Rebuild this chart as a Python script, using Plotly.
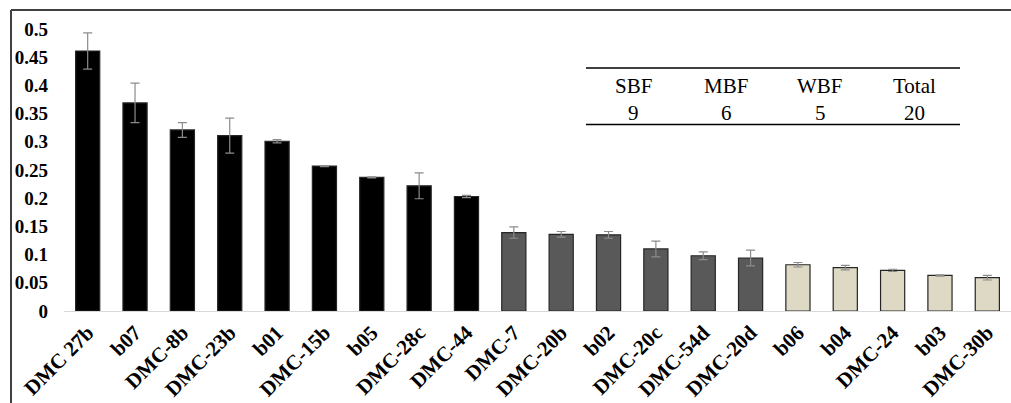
import plotly.graph_objects as go

categories = ["DMC 27b", "b07", "DMC-8b", "DMC-23b", "b01", "DMC-15b", "b05", "DMC-28c", "DMC-44",
              "DMC-7", "DMC-20b", "b02", "DMC-20c", "DMC-54d", "DMC-20d",
              "b06", "b04", "DMC-24", "b03", "DMC-30b"]
values = [0.461, 0.369, 0.321, 0.311, 0.301, 0.257, 0.237, 0.222, 0.203,
          0.139, 0.136, 0.135, 0.110, 0.098, 0.094,
          0.082, 0.077, 0.072, 0.063, 0.059]
errors = [0.032, 0.035, 0.013, 0.031, 0.003, 0.001, 0.001, 0.023, 0.002,
          0.010, 0.005, 0.006, 0.014, 0.007, 0.014,
          0.004, 0.004, 0.002, 0.001, 0.004]
groups = ["SBF"] * 9 + ["MBF"] * 6 + ["WBF"] * 5
group_colors = {"SBF": "#000000", "MBF": "#595959", "WBF": "#DDD9C4"}

y_ticks = [0, 0.05, 0.1, 0.15, 0.2, 0.25, 0.3, 0.35, 0.4, 0.45, 0.5]
y_ticktext = ["0", "0.05", "0.1", "0.15", "0.2", "0.25", "0.3", "0.35", "0.4", "0.45", "0.5"]

table_headers = ["SBF", "MBF", "WBF", "Total"]
table_counts = ["9", "6", "5", "20"]

W, H = 1011, 403
L, R, T, B = 64, 0, 29, 92
pw, ph = W - L - R, H - T - B


def px(x):
    return (x - L) / pw


def py(y):
    return (H - B - y) / ph


fig = go.Figure()
fig.add_trace(go.Bar(
    x=categories, y=values,
    marker=dict(color=[group_colors[g] for g in groups],
                line=dict(color="#262626", width=1.2)),
    error_y=dict(type="data", array=errors, visible=True, color="#8c8c8c",
                 thickness=1.2, width=4.5),
    showlegend=False,
))

shapes = [
    # outer frame
    dict(type="line", xref="paper", yref="paper", x0=px(11), x1=px(1015), y0=py(10), y1=py(10),
         line=dict(color="#404040", width=2)),
    dict(type="line", xref="paper", yref="paper", x0=px(11), x1=px(11), y0=py(10), y1=py(403),
         line=dict(color="#404040", width=2)),
    # table rules
    dict(type="line", xref="paper", yref="paper", x0=px(586), x1=px(960), y0=py(68), y1=py(68),
         line=dict(color="#000000", width=1.6)),
    dict(type="line", xref="paper", yref="paper", x0=px(586), x1=px(960), y0=py(124.5), y1=py(124.5),
         line=dict(color="#000000", width=1.6)),
]

col_x = [633, 726, 820, 914]
annotations = []
for cx, hdr, cnt in zip(col_x, table_headers, table_counts):
    annotations.append(dict(x=px(cx), y=py(86), xref="paper", yref="paper", text=hdr,
                            showarrow=False, xanchor="center", yanchor="middle",
                            font=dict(family="Liberation Serif", size=21, color="#000000")))
    annotations.append(dict(x=px(cx), y=py(113), xref="paper", yref="paper", text=cnt,
                            showarrow=False, xanchor="center", yanchor="middle",
                            font=dict(family="Liberation Serif", size=21, color="#000000")))

fig.update_layout(
    width=W, height=H,
    margin=dict(l=L, r=R, t=T, b=B, pad=0),
    paper_bgcolor="white", plot_bgcolor="white",
    bargap=0.49,
    shapes=shapes,
    annotations=annotations,
    xaxis=dict(
        tickangle=-45,
        tickfont=dict(family="Liberation Serif", size=21, color="#000000", weight="bold"),
        showline=True, linecolor="#d9d9d9", linewidth=1.2,
        showgrid=False, ticks="", zeroline=False, automargin=False,
        range=[-0.5, len(categories) - 0.5],
    ),
    yaxis=dict(
        range=[0, 0.5],
        tickvals=y_ticks, ticktext=y_ticktext,
        tickfont=dict(family="Liberation Serif", size=19, color="#000000", weight="bold"),
        showline=False, showgrid=False, zeroline=False, ticks="", automargin=False,
        ticklabelstandoff=15,
    ),
)

fig.write_html("out.html", config={"displayModeBar": False},
               post_script="document.body.style.margin='0';document.body.style.overflow='hidden';")
